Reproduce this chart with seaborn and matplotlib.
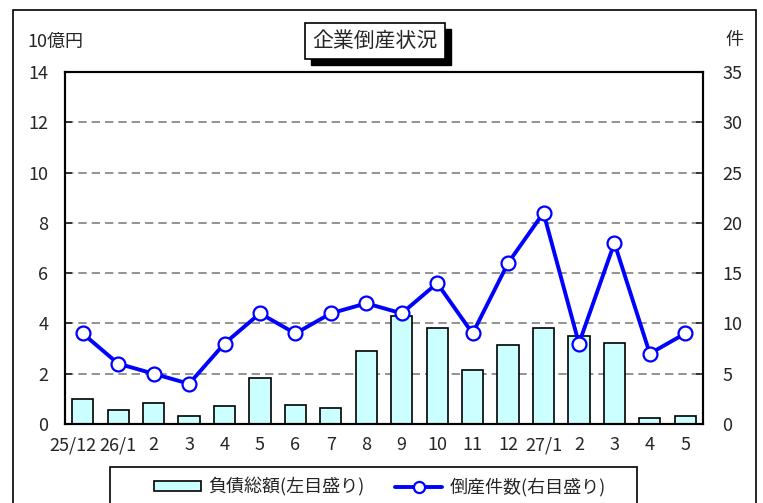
import numpy as np
import pandas as pd
import matplotlib.pyplot as plt
import matplotlib.transforms as mtransforms
from matplotlib.patches import Rectangle
from matplotlib.lines import Line2D
import seaborn as sns

# ----- DATA -----
months = ["25/12", "26/1", "26/2", "26/3", "26/4", "26/5", "26/6", "26/7", "26/8",
          "26/9", "26/10", "26/11", "26/12", "27/1", "27/2", "27/3", "27/4", "27/5"]
tick_labels = ["25/12", "26/1", "2", "3", "4", "5", "6", "7", "8",
               "9", "10", "11", "12", "27/1", "2", "3", "4", "5"]
debt = [1.0, 0.54, 0.85, 0.32, 0.70, 1.84, 0.77, 0.62, 2.92,
        4.28, 3.82, 2.16, 3.13, 3.82, 3.51, 3.22, 0.24, 0.33]
cases = [9, 6, 5, 4, 8, 11, 9, 11, 12, 11, 14, 9, 16, 21, 8, 18, 7, 9]

title = "企業倒産状況"
left_unit = "10億円"
right_unit = "件"
bar_label = "負債総額(左目盛り)"
line_label = "倒産件数(右目盛り)"

df = pd.DataFrame({"month": months, "debt": debt, "cases": cases})
df["pos"] = np.arange(len(df))

sns.set_style("white")
plt.rcParams['font.family'] = ['Noto Sans CJK JP', 'DejaVu Sans']

W, H = 763, 503
fig = plt.figure(figsize=(W / 100, H / 100), dpi=100)
ax = fig.add_axes([65 / W, 1 - 424 / H, (703 - 65) / W, (424 - 72) / H])

# bars (left axis)
sns.barplot(data=df, x="month", y="debt", ax=ax, color="#CCFFFF", saturation=1,
            edgecolor="black", linewidth=1.2, width=0.6, zorder=2)
ax.set_ylim(0, 14)
ax.set_yticks(np.arange(0, 15, 2))
ax.set_xlim(-0.5, len(df) - 0.5)
ax.set_xlabel("")
ax.set_ylabel("")
ax.set_axisbelow(True)
for yv in np.arange(2, 14, 2):
    ax.axhline(yv, color="#808080", linestyle=(0, (5, 3)), linewidth=1.2, zorder=0)

ax.set_xticks(df["pos"])
ax.set_xticklabels(tick_labels)
ax.tick_params(axis="x", length=0, pad=9, labelsize=13)
ax.tick_params(axis="y", direction="in", length=5, width=1.2, pad=12, labelsize=13)
# first label sits a bit to the left in the original
lbl0 = ax.get_xticklabels()[0]
lbl0.set_transform(lbl0.get_transform() + mtransforms.ScaledTranslation(-10 / 100, 0, fig.dpi_scale_trans))

# line (right axis)
ax2 = ax.twinx()
sns.lineplot(data=df, x="pos", y="cases", ax=ax2, color="#0000FF", linewidth=2.8,
             marker="o", markersize=10, markerfacecolor="white",
             markeredgecolor="#0000FF", markeredgewidth=1.6, zorder=5)
ax2.set_ylim(0, 35)
ax2.set_yticks(np.arange(0, 36, 5))
ax2.set_ylabel("")
ax2.set_xlabel("")
ax2.tick_params(axis="y", direction="in", length=5, width=1.2, pad=14, labelsize=13)
ax2.set_xlim(-0.5, len(df) - 0.5)

for a in (ax, ax2):
    for s in a.spines.values():
        s.set_color("black")
        s.set_linewidth(1.5)

# axis unit labels
fig.text(27 / W, 1 - 42 / H, left_unit, fontsize=13, ha="left", va="center")
fig.text(734 / W, 1 - 40 / H, right_unit, fontsize=13, ha="center", va="center")

# title box with shadow
fig.patches.append(Rectangle((311 / W, 1 - 65 / H), 140 / W, 36 / H, transform=fig.transFigure,
                             facecolor="black", edgecolor="black", zorder=1))
fig.patches.append(Rectangle((305 / W, 1 - 59 / H), 140 / W, 36 / H, transform=fig.transFigure,
                             facecolor="white", edgecolor="black", linewidth=1.2, zorder=2))
fig.text(375 / W, 1 - 41 / H, title, fontsize=15, ha="center", va="center", zorder=3)

# outer frame
fig.patches.append(Rectangle((12.7 / W, -0.05), (756 - 12.7) / W, 1.05 - 10 / H,
                             transform=fig.transFigure, fill=False, edgecolor="black",
                             linewidth=1.2, zorder=0))

# legend frame (runs past the bottom edge like the original)
fig.patches.append(Rectangle((110 / W, -0.05), 527 / W, 0.05 + 1 - 467 / H,
                             transform=fig.transFigure, fill=False, edgecolor="black",
                             linewidth=1.2, zorder=0))
handles = [Rectangle((0, 0), 1, 1, facecolor="#CCFFFF", edgecolor="black", linewidth=1.2),
           Line2D([], [], color="#0000FF", linewidth=2.8, marker="o", markersize=8,
                  markerfacecolor="white", markeredgecolor="#0000FF", markeredgewidth=1.6)]
leg = fig.legend(handles, [bar_label, line_label], ncol=2, loc="center",
                 bbox_to_anchor=(380 / W, 1 - 487 / H), borderaxespad=0, frameon=False,
                 fontsize=13, handlelength=2.6, handleheight=0.5, borderpad=0,
                 columnspacing=1.7, handletextpad=0.4)

fig.savefig("out.png", dpi=100)
